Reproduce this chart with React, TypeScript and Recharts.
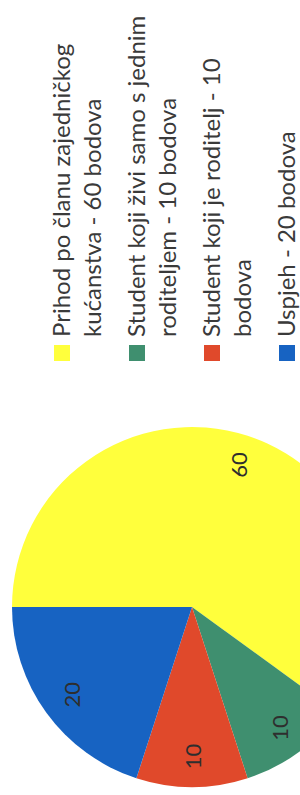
import React from 'react';
import { PieChart, Pie, Cell } from 'recharts';

// Scoring criteria (bodovi) - the scan is rotated 90deg, so we draw upright and rotate the frame
const names = [
    'Prihod po članu zajedničkog\nkućanstva - 60 bodova',
    'Student koji živi samo s jednim\nroditeljem - 10 bodova',
    'Student koji je roditelj - 10\nbodova',
    'Uspjeh - 20 bodova',
];
const values = [60, 10, 10, 20];
const colors = ['#FFFF3C', '#3F8F6F', '#E0492B', '#1763C2'];

const data = names.map((name, i) => ({ name, value: values[i] }));

const RADIAN = Math.PI / 180;

// Slice label placed inside the slice
const renderLabel = (props: any) => {
    const { cx, cy, midAngle, outerRadius, value } = props;
    const r = outerRadius * 0.83;
    const x = cx + r * Math.cos(-midAngle * RADIAN);
    const y = cy + r * Math.sin(-midAngle * RADIAN);
    return (
        <text
            x={x}
            y={y}
            fill="#2e2e2e"
            fontSize={22}
            fontFamily="Lato, sans-serif"
            textAnchor="middle"
            dominantBaseline="central"
        >
            {value}
        </text>
    );
};

const App: React.FC = () => {
    return (
        <div style={{ position: 'absolute', top: 0, left: 0, width: 300, height: 795, overflow: 'hidden', background: '#fff' }}>
            <div
                style={{
                    position: 'absolute',
                    top: 0,
                    left: 0,
                    width: 795,
                    height: 300,
                    transformOrigin: '0 0',
                    transform: 'translateY(795px) rotate(-90deg)',
                }}
            >
                <PieChart width={795} height={300} margin={{ top: 0, right: 0, bottom: 0, left: 0 }}>
                    <Pie
                        data={data}
                        dataKey="value"
                        nameKey="name"
                        cx={188}
                        cy={192}
                        outerRadius={180}
                        startAngle={90}
                        endAngle={-270}
                        stroke="none"
                        label={renderLabel}
                        labelLine={false}
                        isAnimationActive={false}
                    >
                        {data.map((d, i) => (
                            <Cell key={d.name} fill={colors[i]} />
                        ))}
                    </Pie>
                </PieChart>
                {/* legend */}
                <div style={{ position: 'absolute', left: 434, top: 45, width: 361, fontFamily: 'Lato, sans-serif', fontSize: 24, lineHeight: '31px', color: '#3a3a3a' }}>
                    {data.map((d, i) => (
                        <div key={d.name} style={{ display: 'flex', alignItems: 'flex-start', marginBottom: 13 }}>
                            <span style={{ display: 'inline-block', width: 16, height: 16, marginTop: 9, background: colors[i], flexShrink: 0 }} />
                            <span style={{ marginLeft: 8, whiteSpace: 'pre' }}>{d.name}</span>
                        </div>
                    ))}
                </div>
            </div>
        </div>
    );
};

export default App;
